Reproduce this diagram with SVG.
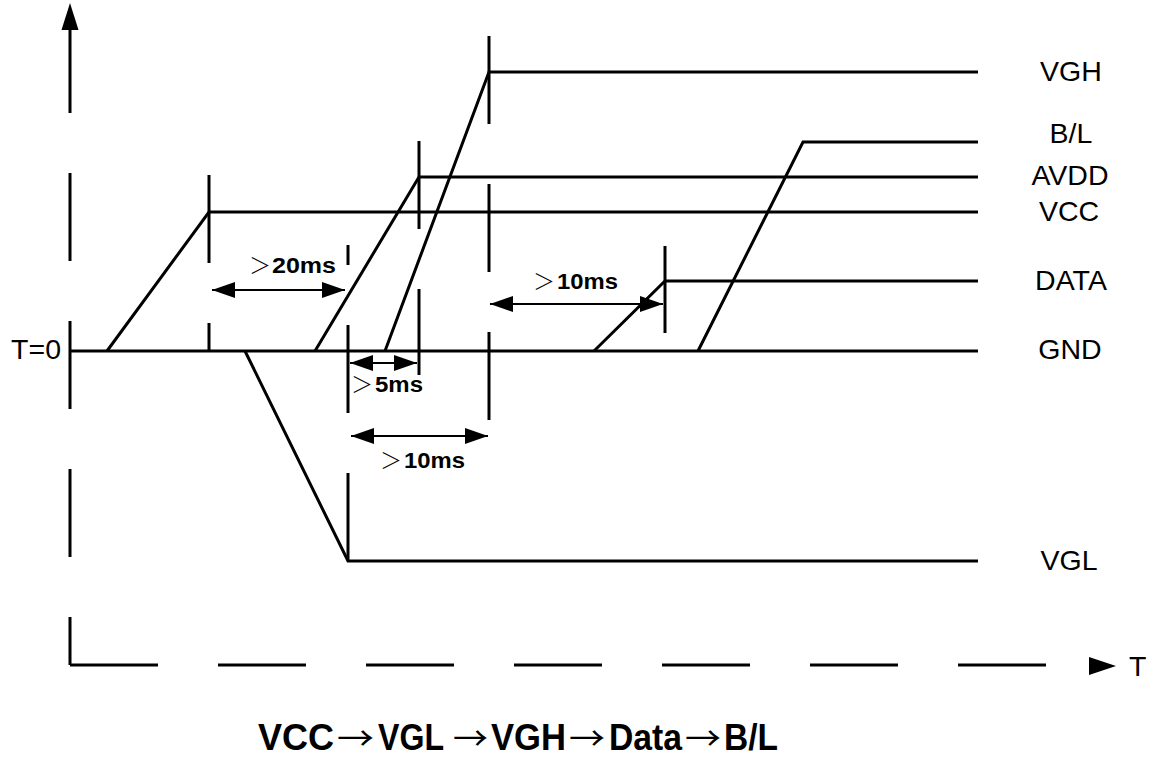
<svg xmlns="http://www.w3.org/2000/svg" width="1154" height="758" viewBox="0 0 1154 758">
<style>
.ax{stroke:#000;stroke-width:3;fill:none}
.dash{stroke-dasharray:88 60}
.w{stroke:#000;stroke-width:3;fill:none;stroke-linejoin:miter}
.tk{stroke:#000;stroke-width:3;fill:none}
.dim{stroke:#000;stroke-width:2;fill:none;marker-start:url(#ah);marker-end:url(#ah)}
.lbl{font-family:"Liberation Sans",Arial,sans-serif;font-size:28.5px;fill:#000}
.gt{font-family:"Noto Sans CJK SC",sans-serif;font-size:22px;fill:#000;font-weight:300}
.ms{font-family:"Liberation Sans",Arial,sans-serif;font-size:22px;font-weight:bold;fill:#000}
.ttl{font-family:"Liberation Sans",Arial,sans-serif;font-size:36px;font-weight:bold;fill:#000}
.arr{font-family:"Noto Sans CJK SC",sans-serif;font-size:32px;font-weight:normal;fill:#000}
</style>
<defs>
<marker id="ah" viewBox="0 0 23 16" refX="23" refY="8" markerWidth="23" markerHeight="16" markerUnits="userSpaceOnUse" orient="auto-start-reverse">
<path d="M0,0 L23,8 L0,16 Z" fill="#000"/>
</marker>
</defs>
<rect width="1154" height="758" fill="#fff"/>
<g id="axes">
<line class="ax dash" x1="70" y1="25" x2="70" y2="665"/>
<path d="M70,3 L78.5,30 L61.5,30 Z" fill="#000"/>
<line class="ax dash" x1="70" y1="665" x2="1046" y2="665"/>
<path d="M1089,657 L1116,666 L1089,675 Z" fill="#000"/>
<text class="lbl" x="1129" y="676">T</text>
<text class="lbl" x="61" y="359" text-anchor="end">T=0</text>
</g>
<g id="GND">
<line class="w" x1="70" y1="351" x2="978" y2="351"/>
<text class="lbl" x="1070" y="359" text-anchor="middle">GND</text>
</g>
<g id="VCC">
<polyline class="w" points="107,351 209,212 978,212"/>
<text class="lbl" x="1069" y="221" text-anchor="middle">VCC</text>
</g>
<g id="VGL">
<polyline class="w" points="245,351 348,561 978,561"/>
<text class="lbl" x="1069" y="570" text-anchor="middle">VGL</text>
</g>
<g id="AVDD">
<polyline class="w" points="315,351 419,177 978,177"/>
<text class="lbl" x="1070" y="185" text-anchor="middle">AVDD</text>
</g>
<g id="VGH">
<polyline class="w" points="385,351 489,72 978,72"/>
<text class="lbl" x="1071" y="81" text-anchor="middle">VGH</text>
</g>
<g id="DATA">
<polyline class="w" points="594,351 665,281 978,281"/>
<text class="lbl" x="1071" y="290" text-anchor="middle">DATA</text>
</g>
<g id="BL">
<polyline class="w" points="698,351 803,142 978,142"/>
<text class="lbl" x="1071" y="143" text-anchor="middle">B/L</text>
</g>
<g id="connectors">
<line class="tk dash" x1="209" y1="175" x2="209" y2="351"/>
<line class="tk dash" x1="348" y1="561" x2="348" y2="245"/>
<line class="tk dash" x1="419" y1="141" x2="419" y2="375"/>
<line class="tk dash" x1="489" y1="36" x2="489" y2="420"/>
<line class="tk" x1="665" y1="246" x2="665" y2="333"/>
<line class="dim" x1="212" y1="290" x2="345" y2="290"/>
<line class="dim" x1="350" y1="363" x2="417" y2="363"/>
<line class="dim" x1="351" y1="436" x2="488" y2="436"/>
<line class="dim" x1="490" y1="304" x2="663" y2="304"/>
</g>
<g id="labels">
<text class="gt" x="249" y="273">＞</text>
<text class="ms" x="272" y="273" textLength="64" lengthAdjust="spacingAndGlyphs">20ms</text>
<text class="gt" x="351" y="392">＞</text>
<text class="ms" x="375" y="392" textLength="48" lengthAdjust="spacingAndGlyphs">5ms</text>
<text class="gt" x="380" y="468">＞</text>
<text class="ms" x="404" y="468" textLength="61" lengthAdjust="spacingAndGlyphs">10ms</text>
<text class="gt" x="533" y="289">＞</text>
<text class="ms" x="557" y="289" textLength="61" lengthAdjust="spacingAndGlyphs">10ms</text>
</g>
<g id="title">
<text class="ttl" x="258" y="750" textLength="76" lengthAdjust="spacingAndGlyphs">VCC</text>
<text class="arr" x="337" y="750" textLength="37" lengthAdjust="spacingAndGlyphs">→</text>
<text class="ttl" x="378" y="750" textLength="66" lengthAdjust="spacingAndGlyphs">VGL</text>
<text class="arr" x="453" y="750" textLength="35" lengthAdjust="spacingAndGlyphs">→</text>
<text class="ttl" x="491" y="750" textLength="75" lengthAdjust="spacingAndGlyphs">VGH</text>
<text class="arr" x="569" y="750" textLength="36" lengthAdjust="spacingAndGlyphs">→</text>
<text class="ttl" x="609" y="750" textLength="73" lengthAdjust="spacingAndGlyphs">Data</text>
<text class="arr" x="685" y="750" textLength="36" lengthAdjust="spacingAndGlyphs">→</text>
<text class="ttl" x="724" y="750" textLength="54" lengthAdjust="spacingAndGlyphs">B/L</text>
</g>
</svg>
